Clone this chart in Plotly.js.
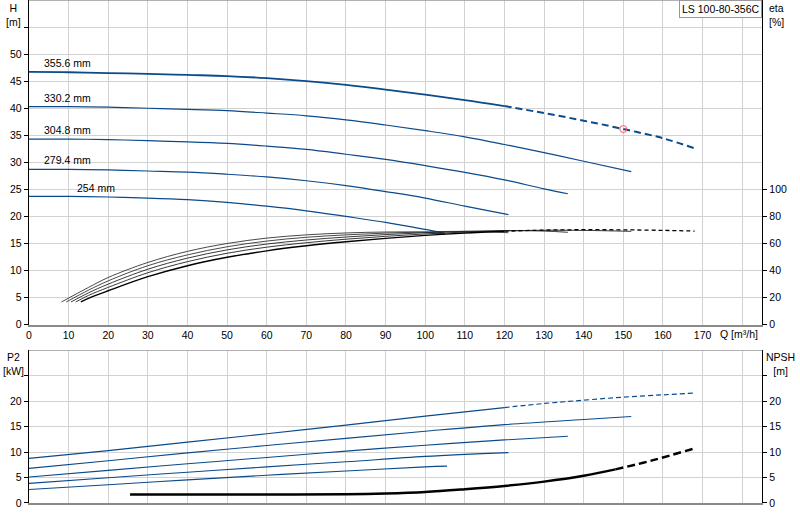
<!DOCTYPE html>
<html>
<head>
<meta charset="utf-8">
<script src="https://cdn.plot.ly/plotly-3.0.1.min.js"></script>
<style>
  html, body { margin: 0; padding: 0; background: #fff; }
  #chart { width: 800px; height: 520px; }
</style>
</head>
<body>
<div id="chart"></div>
<script>
// head curves H(Q), one per impeller diameter
const diameters = ["355.6 mm", "330.2 mm", "304.8 mm", "279.4 mm", "254 mm"];

const q356 = [0, 10, 20, 30, 40, 50, 60, 70, 80, 90, 100, 110, 120];
const h356 = [46.7, 46.65, 46.5, 46.35, 46.15, 45.95, 45.55, 45.0, 44.3, 43.45, 42.5, 41.5, 40.4];
const q356ext = [120, 130, 140, 150, 160, 168];
const h356ext = [40.4, 39.1, 37.7, 36.15, 34.45, 32.6];

const q330 = [0, 10, 20, 30, 40, 50, 60, 70, 80, 90, 100, 110, 120, 130, 140, 152];
const h330 = [40.3, 40.3, 40.2, 40.0, 39.8, 39.55, 39.1, 38.6, 37.85, 36.9, 35.85, 34.7, 33.3, 31.8, 30.2, 28.3];

const q305 = [0, 10, 20, 30, 40, 50, 60, 70, 80, 90, 100, 110, 120, 130, 136];
const h305 = [34.3, 34.3, 34.2, 34.0, 33.8, 33.5, 33.0, 32.4, 31.5, 30.55, 29.4, 28.15, 26.75, 25.1, 24.2];

const q279 = [0, 10, 20, 30, 40, 50, 60, 70, 80, 90, 100, 110, 121];
const h279 = [28.7, 28.7, 28.6, 28.4, 28.2, 27.8, 27.3, 26.6, 25.7, 24.6, 23.4, 21.9, 20.35];

const q254 = [0, 10, 20, 30, 40, 50, 60, 70, 80, 90, 100, 105];
const h254 = [23.7, 23.7, 23.6, 23.4, 23.1, 22.6, 21.9, 21.05, 20.0, 18.9, 17.6, 16.9];

// duty point
const dutyQ = [150];
const dutyH = [36.15];

// efficiency eta(Q) [%]
const e356q = [13.1, 15, 20, 30, 40, 50, 60, 70, 80, 90, 100, 110, 120];
const e356 = [16.8, 19.5, 25.1, 35.5, 43.6, 49.8, 54.6, 58.3, 61.3, 63.8, 66.0, 67.8, 69.1];
const e356extq = [120, 130, 140, 150, 160, 168];
const e356ext = [69.1, 69.9, 70.2, 70.1, 69.7, 69.2];
const e330q = [11.8, 15, 20, 30, 40, 50, 60, 70, 80, 90, 100, 110, 120, 130, 140, 152];
const e330 = [16.8, 21.6, 27.6, 38.4, 46.6, 52.8, 57.3, 60.6, 63.2, 65.3, 67.1, 68.5, 69.4, 69.8, 69.7, 69.0];
const e305q = [10.6, 15, 20, 30, 40, 50, 60, 70, 80, 90, 100, 110, 120, 130, 136];
const e305 = [16.8, 23.5, 30.0, 41.0, 49.2, 55.3, 59.6, 62.6, 64.8, 66.6, 68.0, 69.0, 69.5, 69.2, 68.3];
const e279q = [9.4, 15, 20, 30, 40, 50, 60, 70, 80, 90, 100, 110, 121];
const e279 = [16.8, 25.5, 32.4, 43.6, 51.6, 57.6, 61.8, 64.6, 66.4, 67.7, 68.6, 69.0, 68.0];
const e254q = [8.2, 15, 20, 30, 40, 50, 60, 70, 80, 90, 100, 105];
const e254 = [16.8, 27.5, 34.9, 46.0, 54.2, 60.0, 64.0, 66.4, 67.8, 68.5, 68.3, 67.0];

// shaft power P2(Q) [kW]
const p356q = [0, 20, 40, 60, 80, 100, 120];
const p356 = [8.75, 10.3, 11.95, 13.6, 15.3, 17.05, 18.75];
const p356extq = [120, 130, 140, 150, 160, 168];
const p356ext = [18.75, 19.55, 20.2, 20.8, 21.25, 21.6];
const p330q = [0, 20, 40, 60, 80, 100, 120, 140, 152];
const p330 = [6.8, 8.3, 9.85, 11.3, 12.7, 14.1, 15.4, 16.4, 17.0];
const p305q = [0, 20, 40, 60, 80, 100, 120, 136];
const p305 = [5.1, 6.4, 7.7, 8.95, 10.2, 11.35, 12.4, 13.1];
const p279q = [0, 20, 40, 60, 80, 100, 121];
const p279 = [3.85, 4.95, 6.05, 7.1, 8.1, 9.15, 9.9];
const p254q = [0, 20, 40, 60, 80, 100, 105.5];
const p254 = [2.65, 3.6, 4.55, 5.45, 6.3, 7.1, 7.25];

// NPSH(Q) [m]
const npshQ = [25.5, 40, 60, 80, 90, 100, 110, 120, 130, 140, 148];
const npsh = [1.65, 1.65, 1.65, 1.7, 1.85, 2.15, 2.7, 3.35, 4.2, 5.35, 6.6];
const npshExtQ = [148, 155, 160, 168.3];
const npshExt = [6.6, 7.9, 8.95, 10.8];

// axis ticks
const qTicks = [0, 10, 20, 30, 40, 50, 60, 70, 80, 90, 100, 110, 120, 130, 140, 150, 160, 170, 180];
const hTicks = [0, 5, 10, 15, 20, 25, 30, 35, 40, 45, 50, 55];
const etaTicks = [0, 20, 40, 60, 80, 100];
const pTicks = [0, 5, 10, 15, 20, 25];

const BLUE = "#0b4a8b";
const FONT = { family: "Liberation Sans, Arial, sans-serif", size: 10.5, color: "#000" };

function curve(x, y, xa, ya, color, width, dash) {
    return {
        x: x, y: y, xaxis: xa, yaxis: ya,
        type: "scatter", mode: "lines",
        line: { color: color, width: width, dash: dash || "solid", shape: "spline", smoothing: 1 },
        hoverinfo: "skip", showlegend: false,
    };
}

const data = [
    curve(q356, h356, "x", "y", BLUE, 1.8),
    curve(q356ext, h356ext, "x", "y", BLUE, 2, "7px,4px"),
    curve(q330, h330, "x", "y", BLUE, 1.2),
    curve(q305, h305, "x", "y", BLUE, 1.2),
    curve(q279, h279, "x", "y", BLUE, 1.2),
    curve(q254, h254, "x", "y", BLUE, 1.2),

    curve(e254q, e254, "x", "y2", "#333", 0.9),
    curve(e279q, e279, "x", "y2", "#333", 0.9),
    curve(e305q, e305, "x", "y2", "#222", 0.9),
    curve(e330q, e330, "x", "y2", "#222", 0.9),
    curve(e356q, e356, "x", "y2", "#000", 1.4),
    curve(e356extq, e356ext, "x", "y2", "#000", 1.3, "4px,3px"),

    curve(p356q, p356, "x2", "y3", BLUE, 1.2),
    curve(p356extq, p356ext, "x2", "y3", BLUE, 1.2, "5px,3px"),
    curve(p330q, p330, "x2", "y3", BLUE, 1.1),
    curve(p305q, p305, "x2", "y3", BLUE, 1.1),
    curve(p279q, p279, "x2", "y3", BLUE, 1.1),
    curve(p254q, p254, "x2", "y3", BLUE, 1.1),

    curve(npshQ, npsh, "x2", "y4", "#000", 2.5),
    curve(npshExtQ, npshExt, "x2", "y4", "#000", 2.5, "8px,4px"),

    {
        x: dutyQ, y: dutyH, xaxis: "x", yaxis: "y",
        type: "scatter", mode: "markers",
        marker: { symbol: "circle-open", size: 7, color: "#ff5a5a", line: { width: 1 } },
        hoverinfo: "skip", showlegend: false,
    },
];

const GRID = "#d2d2d2";

function xAxis(anchor, labels) {
    return {
        anchor: anchor, domain: [0, 1], range: [0, 185],
        tickmode: "array", tickvals: qTicks,
        ticktext: qTicks.map((v) => (v === 180 ? "" : String(v))),
        showticklabels: labels, ticks: "",
        showgrid: true, gridcolor: GRID, gridwidth: 1, zeroline: false,
        showline: true, linecolor: "#8a8a8a", linewidth: 2,
        tickfont: FONT, fixedrange: true,
    };
}

function yAxis(domain, range, ticks, lastLabel, extra) {
    return Object.assign({
        domain: domain, range: range,
        tickmode: "array", tickvals: ticks,
        ticktext: ticks.map((v) => (v > lastLabel ? "" : String(v))),
        ticks: "outside", ticklen: 4, tickcolor: "#000", tickwidth: 1,
        showgrid: true, gridcolor: GRID, gridwidth: 1, zeroline: false,
        showline: true, linecolor: "#000", linewidth: 1.2,
        tickfont: FONT, fixedrange: true,
    }, extra || {});
}

const topDomain = [0.3545, 1];
const botDomain = [0, 0.3036];

const diamLabels = [
    { x: 3.4, y: 48.3, t: diameters[0] },
    { x: 3.4, y: 41.8, t: diameters[1] },
    { x: 3.4, y: 35.9, t: diameters[2] },
    { x: 3.4, y: 30.4, t: diameters[3] },
    { x: 11.6, y: 25.3, t: diameters[4] },
];

const annotations = diamLabels.map((d) => ({
    x: d.x, y: d.y, xref: "x", yref: "y", text: d.t,
    showarrow: false, xanchor: "left", yanchor: "middle", font: FONT,
}));

annotations.push(
    { x: -0.0205, y: 1, xref: "paper", yref: "paper", text: "H<br>[m]", showarrow: false,
      xanchor: "center", yanchor: "top", font: FONT },
    { x: 1.0065, y: 1, xref: "paper", yref: "paper", text: "eta<br>[%]", showarrow: false,
      xanchor: "left", yanchor: "top", align: "left", font: FONT },
    { x: 0.9693, y: 0.3354, xref: "paper", yref: "paper", text: "Q [m³/h]", showarrow: false,
      xanchor: "center", yanchor: "middle", font: FONT },
    { x: -0.0205, y: 0.306, xref: "paper", yref: "paper", text: "P2<br>[kW]", showarrow: false,
      xanchor: "center", yanchor: "top", font: FONT },
    { x: 1.0253, y: 0.306, xref: "paper", yref: "paper", text: "NPSH<br>[m]", showarrow: false,
      xanchor: "center", yanchor: "top", font: FONT },
    { x: 1, y: 1, xref: "paper", yref: "paper", text: "LS 100-80-356C", showarrow: false,
      xanchor: "right", yanchor: "top", font: FONT, bgcolor: "#fff",
      bordercolor: "#999", borderwidth: 1, borderpad: 2 },
);

const layout = {
    width: 800, height: 520,
    margin: { l: 29, r: 38, t: 0, b: 17 },
    paper_bgcolor: "#fff", plot_bgcolor: "#fff",
    font: FONT,
    showlegend: false,
    xaxis: xAxis("y", true),
    xaxis2: xAxis("y3", false),
    yaxis: yAxis(topDomain, [0, 60], hTicks, 50, { anchor: "x" }),
    yaxis2: yAxis(topDomain, [0, 240], etaTicks, 100,
        { anchor: "x", overlaying: "y", side: "right", showgrid: false }),
    yaxis3: yAxis(botDomain, [0, 30], pTicks, 20, { anchor: "x2" }),
    yaxis4: yAxis(botDomain, [0, 30], pTicks, 20,
        { anchor: "x2", overlaying: "y3", side: "right", showgrid: false }),
    shapes: [
        { type: "line", xref: "paper", yref: "y", x0: 0, x1: 1, y0: 60, y1: 60,
          line: { color: "#999", width: 1.5 } },
        { type: "line", xref: "paper", yref: "y3", x0: 0, x1: 1, y0: 30, y1: 30,
          line: { color: "#999", width: 1.2 } },
    ],
    annotations: annotations,
};

Plotly.newPlot("chart", data, layout, { staticPlot: true, displayModeBar: false });
</script>
</body>
</html>
